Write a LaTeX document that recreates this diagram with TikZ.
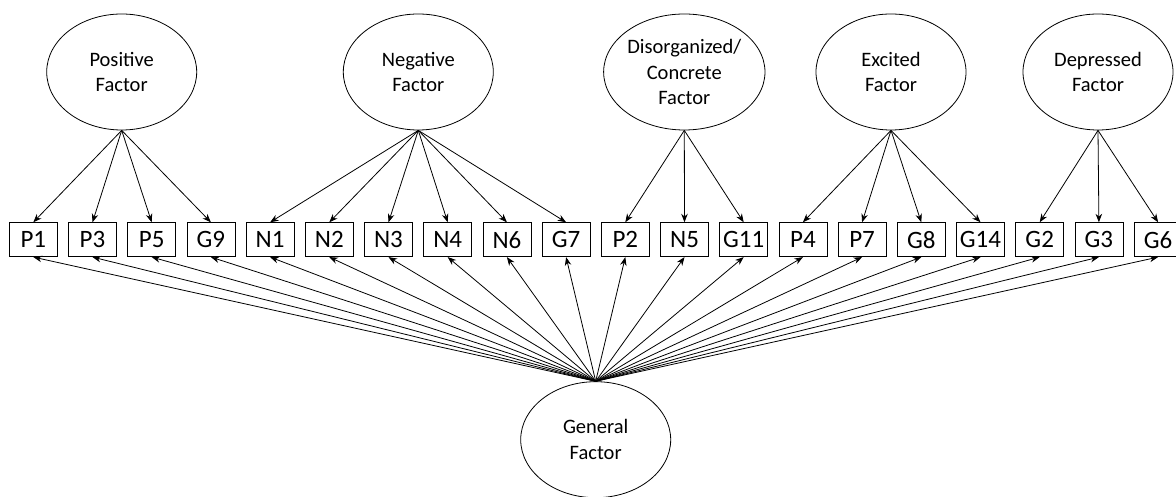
\documentclass[tikz,border=0pt]{standalone}
\usepackage{fontspec}
\setmainfont{Carlito}
\usetikzlibrary{shapes.geometric,arrows.meta}
\tikzset{
  factor/.style={draw, ellipse, line width=0.8pt, minimum width=150pt, minimum height=116pt, inner sep=0pt, align=center, font=\fontsize{20.5}{25.7}\selectfont},
  item/.style={draw, rectangle, line width=0.8pt, minimum width=48pt, minimum height=34pt, inner sep=0pt, font=\fontsize{25}{28}\selectfont},
  load/.style={line width=0.8pt, -{Stealth[length=8.5pt,width=6.5pt]}}
}
\begin{document}
\begin{tikzpicture}[x=1pt,y=1pt]
\useasboundingbox (0,0) rectangle (1176,497);
% factors
\node[factor] (pos) at (121.7,425) {Positive\\Factor};
\node[factor] (neg) at (418.3,425) {Negative\\Factor};
\node[factor] (dis) at (684.3,425) {Disorganized/\\Concrete\\Factor};
\node[factor] (exc) at (891,425) {Excited\\Factor};
\node[factor] (dep) at (1098,425) {Depressed\\Factor};
\node[factor] (gen) at (595.7,57.3) {General\\Factor};
% items
\foreach \lab [count=\i from 0] in {P1,P3,P5,G9,N1,N2,N3,N4,N6,G7,P2,N5,G11,P4,P7,G8,G14,G2,G3,G6}{
  \node[item] (\lab) at ({33.3+59.2*\i},257.3) {\lab};
}
% specific loadings
\foreach \t in {P1,P3,P5,G9} \draw[load] (pos.south) -- (\t.north);
\foreach \t in {N1,N2,N3,N4,N6,G7} \draw[load] (neg.south) -- (\t.north);
\foreach \t in {P2,N5,G11} \draw[load] (dis.south) -- (\t.north);
\foreach \t in {P4,P7,G8,G14} \draw[load] (exc.south) -- (\t.north);
\foreach \t in {G2,G3,G6} \draw[load] (dep.south) -- (\t.north);
% general loadings
\foreach \t in {P1,P3,P5,G9,N1,N2,N3,N4,N6,G7,P2,N5,G11,P4,P7,G8,G14,G2,G3,G6}
  \draw[load] (gen.north) -- (\t.south);
\end{tikzpicture}
\end{document}
